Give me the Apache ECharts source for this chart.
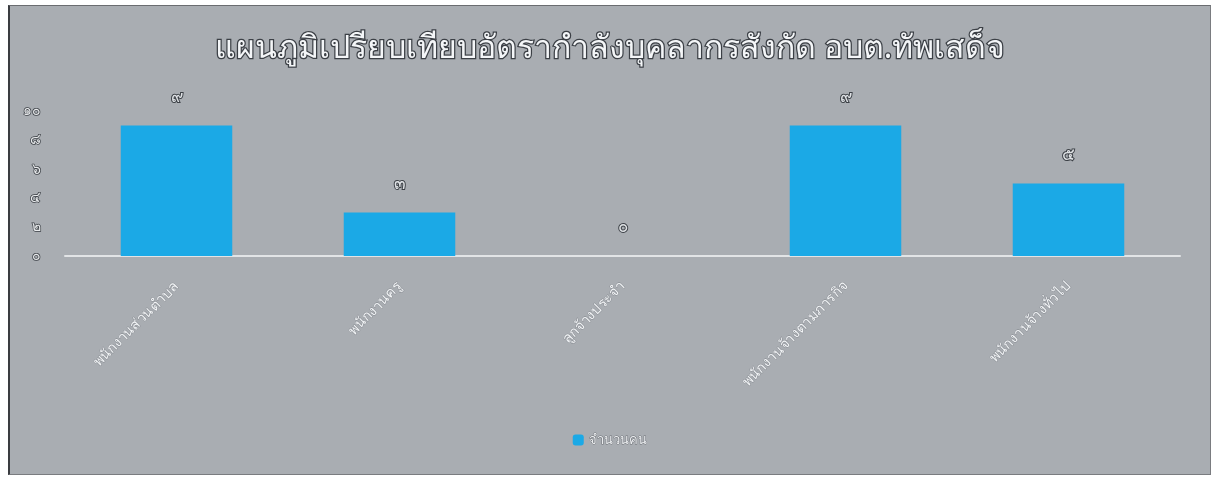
<!DOCTYPE html>
<html>
<head>
<meta charset="utf-8">
<script src="https://cdn.jsdelivr.net/npm/echarts@6/dist/echarts.min.js"></script>
<style>
html,body{margin:0;padding:0;background:#ffffff;}
#chart{position:absolute;left:8px;top:5px;width:1203px;height:470px;background:#a9adb2;border-left:2px solid #3a3c40;border-top:1px solid #6a6c70;border-right:1px solid #7a7c80;border-bottom:1px solid #7a7c80;box-sizing:border-box;}
</style>
</head>
<body>
<div id="chart"></div>
<script>
const titleText = 'แผนภูมิเปรียบเทียบอัตรากำลังบุคลากรสังกัด อบต.ทัพเสด็จ';
const categories = ['พนักงานส่วนตำบล', 'พนักงานครู', 'ลูกจ้างประจำ', 'พนักงานจ้างตามภารกิจ', 'พนักงานจ้างทั่วไป'];
const seriesName = 'จำนวนคน';
const values = [9, 3, 0, 9, 5];
const yTicks = [0, 2, 4, 6, 8, 10];

const thaiDigits = ['๐','๑','๒','๓','๔','๕','๖','๗','๘','๙'];
function toThai(n){ return String(n).replace(/[0-9]/g, d => thaiDigits[+d]); }

const chart = echarts.init(document.getElementById('chart'));
chart.setOption({
  backgroundColor: 'transparent',
  textStyle: { fontFamily: 'Noto Sans, Tahoma, sans-serif' },
  title: {
    text: titleText,
    left: 'center',
    top: 22,
    textStyle: {
      color: '#f4f6f8', fontSize: 32, fontWeight: 'normal',
      textBorderColor: '#3c4046', textBorderWidth: 2.5
    }
  },
  legend: {
    bottom: 22,
    left: 'center',
    itemWidth: 11, itemHeight: 11,
    icon: 'roundRect',
    data: [seriesName],
    textStyle: { color: '#eef0f2', fontSize: 13, textBorderColor: '#6a6e74', textBorderWidth: 1 }
  },
  grid: { left: 55, right: 30, top: 105, bottom: 218, containLabel: false },
  xAxis: {
    type: 'category',
    data: categories,
    axisLine: { show: true, lineStyle: { color: '#e2e4e6', width: 2 } },
    axisTick: { show: false },
    axisLabel: {
      rotate: 45, margin: 28, color: '#f2f4f6', fontSize: 14,
      textBorderColor: '#8a8e94', textBorderWidth: 1
    }
  },
  yAxis: {
    type: 'value',
    min: yTicks[0],
    max: yTicks[yTicks.length - 1],
    interval: yTicks[1] - yTicks[0],
    axisLine: { show: false },
    axisTick: { show: false },
    splitLine: { show: false },
    axisLabel: {
      color: '#e8eaec', fontSize: 14, margin: 24,
      textBorderColor: '#3c4046', textBorderWidth: 1.5,
      formatter: v => toThai(v)
    }
  },
  series: [{
    name: seriesName,
    type: 'bar',
    data: values,
    barWidth: '50%',
    itemStyle: { color: '#1ba9e6' },
    label: {
      show: true, position: 'top', distance: 20,
      color: '#dfe2e5', fontSize: 17,
      textBorderColor: '#3c4046', textBorderWidth: 2,
      formatter: p => toThai(p.value)
    }
  }]
});
</script>
</body>
</html>
